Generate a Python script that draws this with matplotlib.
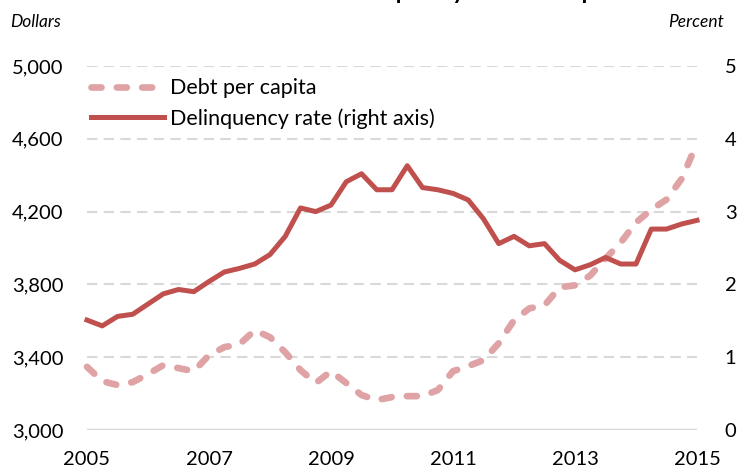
import matplotlib
matplotlib.use("Agg")
import matplotlib.pyplot as plt

plt.rcParams['font.family'] = ['Lato', 'DejaVu Sans']

# quarterly, 2005Q1 .. 2015Q1
quarters = [2005 + i / 4 for i in range(41)]

debt_per_capita = [3347, 3268, 3247, 3263, 3307, 3356, 3340, 3323, 3411, 3455,
                   3471, 3548, 3510, 3427, 3329, 3258, 3323, 3258, 3192, 3164,
                   3181, 3186, 3186, 3219, 3323, 3351, 3384, 3477, 3603, 3668,
                   3685, 3784, 3795, 3849, 3942, 4030, 4140, 4211, 4266, 4381,
                   4575]

delinquency_rate = [1.51, 1.43, 1.56, 1.59, 1.73, 1.87, 1.93, 1.90, 2.04, 2.17,
                    2.22, 2.28, 2.41, 2.66, 3.05, 3.00, 3.09, 3.41, 3.52, 3.30,
                    3.30, 3.63, 3.33, 3.30, 3.25, 3.16, 2.90, 2.56, 2.66, 2.53,
                    2.56, 2.33, 2.20, 2.27, 2.37, 2.28, 2.28, 2.76, 2.76, 2.83,
                    2.88]

left_ticks = [3000, 3400, 3800, 4200, 4600, 5000]
right_ticks = [0, 1, 2, 3, 4, 5]
year_ticks = [2005, 2007, 2009, 2011, 2013, 2015]

debt_color = '#DFA3A5'
delinq_color = '#C0504D'

fig = plt.figure(figsize=(7.4, 4.7), dpi=100)
ax = fig.add_axes([87 / 740, 40 / 470, 610 / 740, 364 / 470])
ax2 = ax.twinx()

# grid lines drawn by hand on the left axis
for t in left_ticks[1:]:
    ax.axhline(t, color='#D9D9D9', lw=1.5, dashes=(5, 3), zorder=0)
ax.axhline(3000, color='#D9D9D9', lw=2.5, zorder=0)

ln1, = ax.plot(quarters, debt_per_capita, color=debt_color, lw=4.8,
               dashes=(1.5, 2.3), dash_capstyle='round', clip_on=False,
               label='Debt per capita', zorder=3)
ln2, = ax2.plot(quarters, delinquency_rate, color=delinq_color, lw=3.6,
                clip_on=False, label='Delinquency rate (right axis)', zorder=3)

ax.set_xlim(2005, 2015)
ax.set_ylim(3000, 5000)
ax2.set_ylim(0, 5)
ax.set_xticks(year_ticks)
ax.set_yticks(left_ticks)
ax.set_yticklabels([f'{v:,}' for v in left_ticks])
ax2.set_yticks(right_ticks)

for a in (ax, ax2):
    for s in a.spines.values():
        s.set_visible(False)
    a.tick_params(length=0, labelsize=14.5, colors='black')
ax.tick_params(axis='y', pad=17)
ax.tick_params(axis='x', pad=15)
ax2.tick_params(axis='y', pad=20)

leg = ax.legend(handles=[ln1, ln2], loc='upper left', frameon=False,
                fontsize=15.5, bbox_to_anchor=(-0.008, 0.99),
                handlelength=3.4, handletextpad=0.3, labelspacing=0.45,
                borderaxespad=0)

fig.text(10 / 740, 1 - 22 / 470, 'Dollars', fontsize=12.5, style='italic',
         va='center', ha='left')
fig.text(724 / 740, 1 - 22 / 470, 'Percent', fontsize=12.5, style='italic',
         va='center', ha='right')

# title, cut off at the top edge as in the source image
fig.text(40 / 740, 1 + 1 / 470, 'State student loan debt and delinquency rates are up',
         fontsize=17, fontweight='bold', va='baseline', ha='left')

fig.savefig('out.png', dpi=100)
